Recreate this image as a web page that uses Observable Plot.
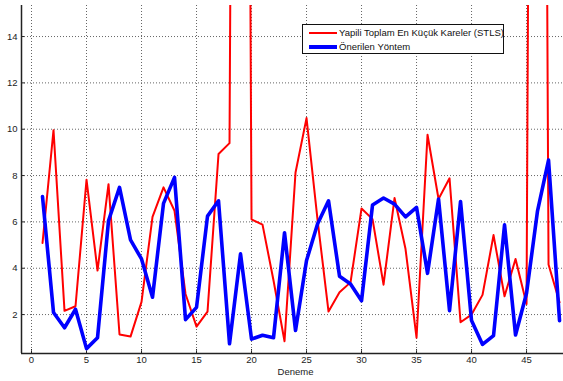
<!DOCTYPE html>
<html>
<head>
<meta charset="utf-8">
<script src="https://cdn.jsdelivr.net/npm/d3@7"></script>
<script src="https://cdn.jsdelivr.net/npm/@observablehq/plot@0.6"></script>
<style>
  html, body { margin: 0; padding: 0; background: #fff; }
  #wrap { position: relative; width: 563px; height: 381px; font-family: "Liberation Sans", Arial, sans-serif; }
  #legend { position: absolute; left: 302px; top: 24px; width: 200px; height: 28px; background: #fff; border: 1.5px solid #111; box-sizing: content-box; }
  .li { position: absolute; left: 0; font-size: 9.5px; color: #111; white-space: nowrap; }
  .sw { position: absolute; left: 6px; width: 28px; }
  .lt { position: absolute; left: 36px; line-height: 10px; }
</style>
</head>
<body>
<div id="wrap"></div>
<script>
const trials = d3.range(1, 49);
const stls = [5.09, 9.96, 2.16, 2.36, 7.82, 3.9, 7.63, 1.14, 1.05, 2.55,
              6.22, 7.49, 6.48, 2.89, 1.48, 2.13, 8.93, 9.4, 100, 6.11,
              5.88, 3.47, 0.85, 8.13, 10.48, 6.1, 2.13, 2.96, 3.39, 6.58,
              6.12, 3.29, 7.03, 4.83, 1.0, 9.76, 6.99, 7.88, 1.67, 2.0,
              2.85, 5.43, 2.79, 4.4, 2.46, 100, 4.16, 2.53];
const proposed = [7.09, 2.09, 1.43, 2.23, 0.53, 1.0, 6.05, 7.49, 5.22, 4.4,
                  2.75, 6.8, 7.92, 1.78, 2.31, 6.25, 6.91, 0.74, 4.62, 0.94,
                  1.11, 1.0, 5.53, 1.31, 4.33, 5.91, 6.91, 3.65, 3.32, 2.6,
                  6.73, 7.03, 6.77, 6.22, 6.63, 3.78, 6.99, 2.17, 6.88, 1.74,
                  0.71, 1.09, 5.87, 1.12, 2.92, 6.48, 8.67, 1.74];
const xTicks = [0, 5, 10, 15, 20, 25, 30, 35, 40, 45];
const yTicks = [2, 4, 6, 8, 10, 12, 14];
const xDomain = [-0.91, 48.36];
const yDomain = [0.32, 15.34];
const seriesNames = ["Yapili Toplam En Küçük Kareler (STLS)", "Önerilen Yöntem"];
const xLabel = "Deneme";

const redData = trials.map((t, i) => ({t, v: stls[i]}));
const blueData = trials.map((t, i) => ({t, v: proposed[i]}));

const chart = Plot.plot({
  width: 563,
  height: 381,
  marginLeft: 21,
  marginRight: 0,
  marginTop: 5,
  marginBottom: 28,
  style: {fontFamily: "'Liberation Sans', Arial, sans-serif", fontSize: "9.5px", color: "#222", background: "#fff"},
  x: {domain: xDomain, ticks: xTicks, tickSize: -4, tickPadding: 7, label: null},
  y: {domain: yDomain, ticks: yTicks, tickSize: -4, tickPadding: 8, label: null},
  marks: [
    Plot.ruleX(xTicks, {stroke: "#666", strokeDasharray: "1,2"}),
    Plot.ruleY(yTicks, {stroke: "#666", strokeDasharray: "1,2"}),
    Plot.line(redData, {x: "t", y: "v", stroke: "#ff0000", strokeWidth: 2, clip: true}),
    Plot.line(blueData, {x: "t", y: "v", stroke: "#0000ff", strokeWidth: 3.6, clip: true}),
    Plot.ruleX([xDomain[0]], {stroke: "#222", strokeWidth: 1.5}),
    Plot.ruleY([yDomain[0]], {stroke: "#222", strokeWidth: 1.5}),
    Plot.text([xLabel], {text: d => d, frameAnchor: "bottom", dy: 21.5, dx: 3, fill: "#222", fontSize: 9.5})
  ]
});
const wrap = document.getElementById("wrap");
wrap.appendChild(chart);

const legend = document.createElement("div");
legend.id = "legend";
const colors = ["#ff0000", "#0000ff"];
const widths = [2, 3.6];
seriesNames.forEach((name, i) => {
  const row = document.createElement("div");
  row.className = "li";
  row.style.top = (i === 0 ? 2 : 16) + "px";
  row.style.height = "12px";
  const sw = document.createElement("div");
  sw.className = "sw";
  sw.style.top = (6 - widths[i] / 2) + "px";
  sw.style.height = widths[i] + "px";
  sw.style.background = colors[i];
  const lt = document.createElement("div");
  lt.className = "lt";
  lt.style.top = "1px";
  lt.textContent = name;
  row.appendChild(sw);
  row.appendChild(lt);
  legend.appendChild(row);
});
wrap.appendChild(legend);
</script>
</body>
</html>
